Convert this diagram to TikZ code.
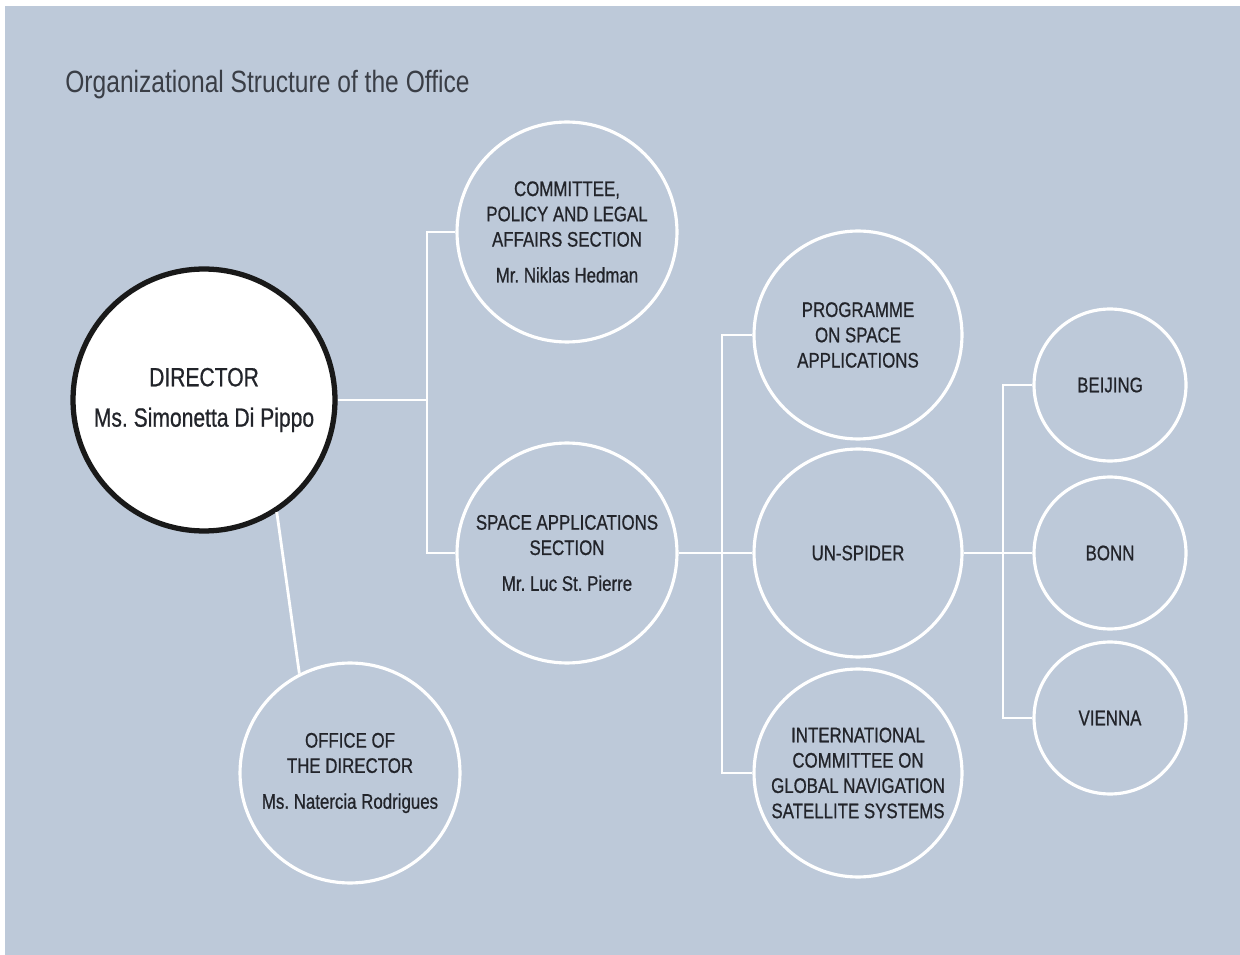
\documentclass[tikz,border=0pt]{standalone}
\usepackage{fontspec}
\setmainfont{Liberation Sans}[FakeStretch=0.8]
\newfontfamily\unitfont{Liberation Sans}[FakeStretch=0.8,FakeBold=0.7]
\usetikzlibrary{calc}
\definecolor{officeblue}{RGB}{189,201,217}
\definecolor{inkgray}{RGB}{34,36,42}
\definecolor{titlegray}{RGB}{58,62,70}
\frenchspacing

\begin{document}
\begin{tikzpicture}[x=0.02cm,y=-0.02cm]

\tikzset{
  unit/.style={circle,draw=white,line width=1.8pt,align=center,text=inkgray,
    font=\unitfont\fontsize{12}{14.4}\selectfont,inner sep=0pt},
  bigunit/.style={unit,minimum size=4.4cm},
  midunit/.style={unit,minimum size=4.16cm},
  smallunit/.style={unit,minimum size=3.04cm},
  link/.style={white,line width=1.6pt}
}

% page and background
\fill[white] (0,0) rectangle (1240,955);
\fill[officeblue] (5,6) rectangle (1240,955);
\useasboundingbox (0,0) rectangle (1240,955);

\node[anchor=base west,inner sep=0pt,text=titlegray,
  font=\fontsize{17.5}{20}\selectfont] (title) at (65,93) {Organizational Structure of the Office};

% director and first level
\node[unit,fill=white,draw=black!90,line width=3pt,minimum size=5.24cm,
  font=\unitfont\fontsize{15}{18}\selectfont] (director) at (204,400) {DIRECTOR\\[5pt]Ms. Simonetta Di Pippo};

\node[bigunit] (committee) at (567,232) {COMMITTEE,\\POLICY AND LEGAL\\AFFAIRS SECTION\\[6pt]Mr. Niklas Hedman};
\node[bigunit] (sas) at (567,553) {SPACE APPLICATIONS\\SECTION\\[6pt]Mr. Luc St. Pierre};
\node[bigunit] (office) at (350,773) {OFFICE OF\\THE DIRECTOR\\[6pt]Ms. Natercia Rodrigues};

% second level
\node[midunit] (programme) at (858,335) {PROGRAMME\\ON SPACE\\APPLICATIONS};
\node[midunit] (spider) at (858,553) {UN-SPIDER};
\node[midunit] (icg) at (858,773) {INTERNATIONAL\\COMMITTEE ON\\GLOBAL NAVIGATION\\SATELLITE SYSTEMS};

% offices
\node[smallunit] (beijing) at (1110,385) {BEIJING};
\node[smallunit] (bonn) at (1110,553) {BONN};
\node[smallunit] (vienna) at (1110,718) {VIENNA};

% connectors
\coordinate (forka) at (427,400);
\coordinate (forkb) at (722,553);
\coordinate (forkc) at (1003,553);

\draw[link] (director.east) -- (forka);
\draw[link] (committee.west) -| (forka) |- (sas.west);
\draw[link] (director.-57) -- (office.117);

\draw[link] (sas.east) -- (spider.west);
\draw[link] (programme.west) -| (forkb) |- (icg.west);

\draw[link] (spider.east) -- (bonn.west);
\draw[link] (beijing.west) -| (forkc) |- (vienna.west);

\end{tikzpicture}
\end{document}
